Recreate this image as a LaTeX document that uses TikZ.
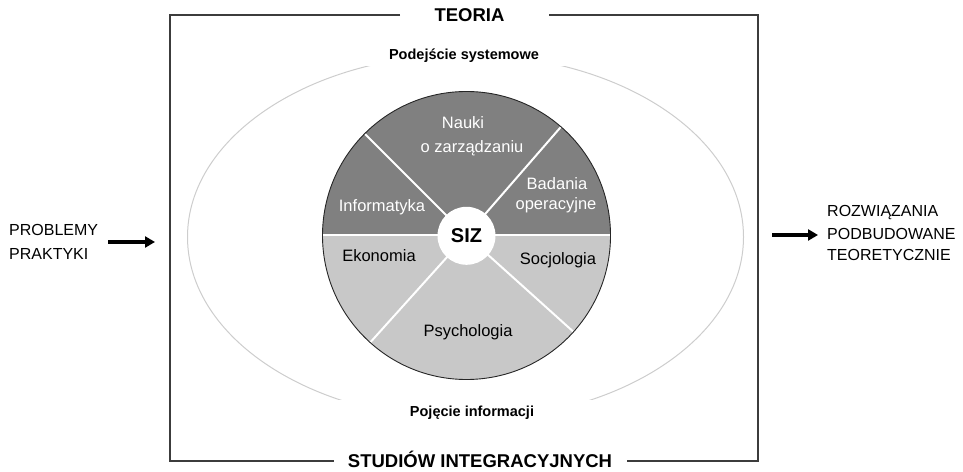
\documentclass[tikz,border=0pt]{standalone}
\usepackage{fontspec}
\setmainfont{Liberation Sans}
\usetikzlibrary{arrows.meta}
\definecolor{sectordark}{RGB}{128,128,128}
\definecolor{sectorlight}{RGB}{200,200,200}
\definecolor{ringgray}{RGB}{205,205,205}
\definecolor{framegray}{RGB}{60,60,60}
\begin{document}
\begin{tikzpicture}[x=1pt,y=1pt,
  title/.style={font=\fontsize{18.5}{22}\selectfont\bfseries, inner sep=0pt, anchor=base},
  subtitle/.style={font=\fontsize{14.5}{17}\selectfont\bfseries, inner sep=0pt, anchor=base},
  side/.style={font=\fontsize{16}{19}\selectfont, inner sep=0pt, anchor=base west},
  field/.style={font=\fontsize{16.5}{19}\selectfont, inner sep=0pt, anchor=base},
  fieldlight/.style={field, text=white},
  framestroke/.style={draw=framegray, line width=1.1pt},
  divider/.style={draw=white, line width=2pt},
  bigarrow/.style={line width=3.6pt, -{Triangle[length=10pt,width=11pt]}},
]
\useasboundingbox (0,0) rectangle (963,471);

% outer frame, broken by the two titles
\draw[framestroke] (400,456) -- (170,456) -- (170,10) -- (334,10);
\draw[framestroke] (627,10) -- (758,10) -- (758,456) -- (549,456);
\node[title] (teoria) at (469.5,449.4) {TEORIA};
\node[title] (studia) at (480,3.4) {STUDIÓW INTEGRACYJNYCH};

% light elliptical ring, open where its two labels sit
\begin{scope}
  \clip (170,71) rectangle (758,404);
  \draw[ringgray, line width=1pt] (465.5,234) ellipse [x radius=278, y radius=182.5];
\end{scope}
\node[subtitle] (podejscie) at (464,411) {Podejście systemowe};
\node[subtitle] (pojecie) at (472,54) {Pojęcie informacji};

% disc of disciplines: dark upper half, light lower half
\coordinate (c) at (466.5,235.5);
\begin{scope}
  \clip (c) circle (144);
  \fill[sectordark] (300,235.5) rectangle (640,400);
  \fill[sectorlight] (300,235.5) rectangle (640,80);
\end{scope}
\draw[divider] (c) ++(-144,0) -- ++(288,0);
\draw[divider] (c) -- ++(49:144);
\draw[divider] (c) -- ++(135:144);
\draw[divider] (c) -- ++(228:144);
\draw[divider] (c) -- ++(318:144);
\draw[black!85, line width=0.9pt] (c) circle (144);

\node[circle, fill=white, minimum size=58pt, inner sep=0pt,
      font=\fontsize{20}{22}\selectfont\bfseries,
      text height=14.3pt, text depth=0pt] (siz) at (466.5,235.2) {SIZ};

\node[fieldlight] (nauki1) at (463,342) {Nauki};
\node[fieldlight] (nauki2) at (472,318) {o zarządzaniu};
\node[fieldlight] (informatyka) at (382,259) {Informatyka};
\node[fieldlight] (badania1) at (557,281) {Badania};
\node[fieldlight] (badania2) at (556,261) {operacyjne};
\node[field] (ekonomia) at (379,209) {Ekonomia};
\node[field] (socjologia) at (558,206) {Socjologia};
\node[field] (psychologia) at (468,134) {Psychologia};

% input side
\node[side] (prob1) at (9,235) {PROBLEMY};
\node[side] (prob2) at (9,211) {PRAKTYKI};
\coordinate (inA) at (108,229);
\coordinate (inB) at (155,229);
\draw[bigarrow] (inA) -- (inB);

% output side
\node[side] (roz1) at (827,254) {ROZWIĄZANIA};
\node[side] (roz2) at (827,231) {PODBUDOWANE};
\node[side] (roz3) at (827,210) {TEORETYCZNIE};
\coordinate (outA) at (772,236);
\coordinate (outB) at (818,236);
\draw[bigarrow] (outA) -- (outB);
\end{tikzpicture}
\end{document}
